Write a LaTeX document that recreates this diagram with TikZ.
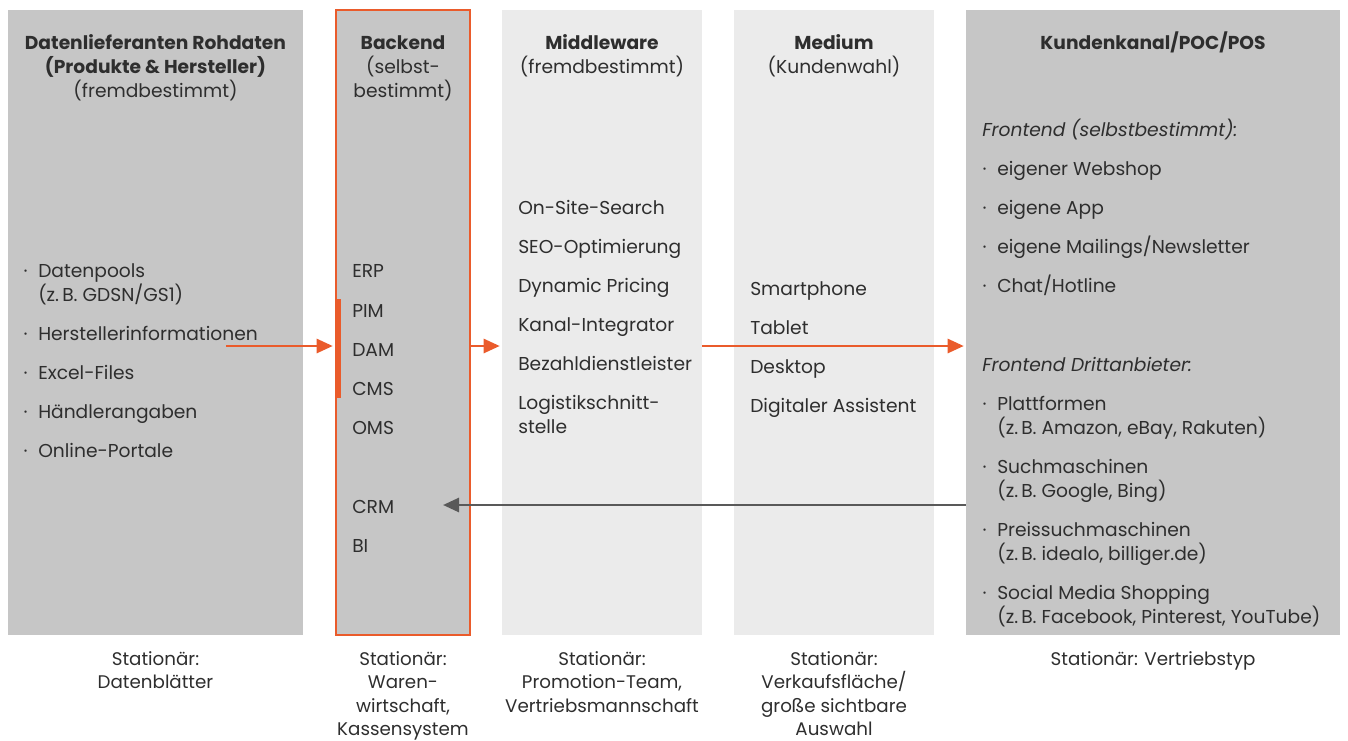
\documentclass[tikz,border=0pt]{standalone}
\usepackage{fontspec}
\setmainfont{Poppins}
\usetikzlibrary{positioning,arrows.meta,fit}

\definecolor{darkcol}{HTML}{C6C6C6}
\definecolor{lightcol}{HTML}{EBEBEB}
\definecolor{orangeline}{HTML}{EA5B2B}
\definecolor{greyline}{HTML}{595959}
\definecolor{textcol}{HTML}{2E2E2E}

\newcommand{\dotitem}{\llap{\makebox[11pt][l]{·}}}

\begin{document}
\begin{tikzpicture}[
  x=0.75pt, y=-0.75pt,
  colbox/.style={inner sep=0pt, draw=none},
  head/.style={anchor=base, align=center, inner sep=0pt, text=textcol, font=\fontsize{14}{18}\selectfont},
  entry/.style={anchor=base west, align=left, inner sep=0pt, text=textcol, font=\fontsize{14}{18}\selectfont},
  foot/.style={anchor=base, align=center, inner sep=0pt, text=textcol, font=\fontsize{13.7}{17.6}\selectfont},
  flow/.style={-{Triangle[length=12pt, width=10.5pt]}, line width=1.9pt, color=orangeline},
  back/.style={-{Triangle[length=12pt, width=10.5pt]}, line width=2pt, color=greyline}
]
  \useasboundingbox (0,0) rectangle (1348,740);

  % columns
  \node (col-data) [colbox, fill=darkcol, fit={(8,10) (303,635)}] {};
  \node (col-back) [colbox, fill=darkcol, draw=orangeline, line width=0.9pt, fit={(336,10) (470,635)}] {};
  \node (col-mid) [colbox, fill=lightcol, fit={(502,10) (702,635)}] {};
  \node (col-med) [colbox, fill=lightcol, fit={(734,10) (934,635)}] {};
  \node (col-cust) [colbox, fill=darkcol, fit={(966,10) (1340,635)}] {};

  % headings (placed at the baseline of their last line)
  \node (head-data) [head] at (col-data |- 0,97) {\textbf{Datenlieferanten Rohdaten}\\\textbf{(Produkte \& Hersteller)}\\(fremdbestimmt)};
  \node (head-back) [head] at (col-back |- 0,97) {\textbf{Backend}\\(selbst-\\bestimmt)};
  \node (head-mid) [head] at (col-mid |- 0,73) {\textbf{Middleware}\\(fremdbestimmt)};
  \node (head-med) [head] at (col-med |- 0,73) {\textbf{Medium}\\(Kundenwahl)};
  \node (head-cust) [head] at (col-cust |- 0,49) {\textbf{Kundenkanal/POC/POS}};

  % Datenlieferanten
  \node (src-pools) [entry] at (38,301) {\dotitem Datenpools\\(z.\,B. GDSN/GS1)};
  \node (src-manuf) [entry] at (38,340) {\dotitem Herstellerinformationen};
  \node (src-excel) [entry] at (38,379) {\dotitem Excel-Files};
  \node (src-dealer) [entry] at (38,418) {\dotitem Händlerangaben};
  \node (src-portal) [entry] at (38,457) {\dotitem Online-Portale};

  % Backend
  \node (back-erp) [entry] at (352,277) {ERP};
  \node (back-pim) [entry] at (352,317) {PIM};
  \node (back-dam) [entry] at (352,356) {DAM};
  \node (back-cms) [entry] at (352,395) {CMS};
  \node (back-oms) [entry] at (352,434) {OMS};
  \node (back-crm) [entry] at (352,513) {CRM};
  \node (back-bi) [entry] at (352,552) {BI};
  \fill[orangeline] (336,299) rectangle (341,398);

  % Middleware
  \node (mid-search) [entry] at (518,214) {On-Site-Search};
  \node (mid-seo) [entry] at (518,253) {SEO-Optimierung};
  \node (mid-pricing) [entry] at (518,292) {Dynamic Pricing};
  \node (mid-channel) [entry] at (518,331) {Kanal-Integrator};
  \node (mid-pay) [entry] at (518,370) {Bezahldienstleister};
  \node (mid-logistic) [entry] at (518,433) {Logistikschnitt-\\stelle};

  % Medium
  \node (med-phone) [entry] at (750,295) {Smartphone};
  \node (med-tablet) [entry] at (750,334) {Tablet};
  \node (med-desk) [entry] at (750,373) {Desktop};
  \node (med-assist) [entry] at (750,412) {Digitaler Assistent};

  % Kundenkanal
  \node (cust-own) [entry] at (982,136) {\textit{Frontend (selbstbestimmt):}};
  \node (cust-shop) [entry] at (997,175) {\dotitem eigener Webshop};
  \node (cust-app) [entry] at (997,214) {\dotitem eigene App};
  \node (cust-mail) [entry] at (997,253) {\dotitem eigene Mailings/Newsletter};
  \node (cust-chat) [entry] at (997,292) {\dotitem Chat/Hotline};
  \node (cust-third) [entry] at (982,371) {\textit{Frontend Drittanbieter:}};
  \node (cust-platform) [entry] at (997,434) {\dotitem Plattformen\\(z.\,B. Amazon, eBay, Rakuten)};
  \node (cust-search) [entry] at (997,497) {\dotitem Suchmaschinen\\(z.\,B. Google, Bing)};
  \node (cust-price) [entry] at (997,560) {\dotitem Preissuchmaschinen\\(z.\,B. idealo, billiger.de)};
  \node (cust-social) [entry] at (997,623) {\dotitem Social Media Shopping\\(z.\,B. Facebook, Pinterest, YouTube)};

  % stationaer
  \node (foot-data) [foot] at (col-data |- 0,688.5) {Stationär:\\Datenblätter};
  \node (foot-back) [foot] at (col-back |- 0,735.5) {Stationär:\\Waren-\\wirtschaft,\\Kassensystem};
  \node (foot-mid) [foot] at (col-mid |- 0,712) {Stationär:\\Promotion-Team,\\Vertriebsmannschaft};
  \node (foot-med) [foot] at (col-med |- 0,735.5) {Stationär:\\Verkaufsfläche/\\große sichtbare\\Auswahl};
  \node (foot-cust) [foot] at (col-cust |- 0,665) {Stationär: Vertriebstyp};

  % arrows
  \coordinate (fwd) at (226,346);
  \coordinate (ret) at (443,505);
  \draw[flow] (fwd) -- ([xshift=-2pt]col-back.west |- fwd);
  \draw[flow] (col-back.east |- fwd) -- ([xshift=-1.5pt]col-mid.west |- fwd);
  \draw[flow] (col-mid.east |- fwd) -- ([xshift=-1.5pt]col-cust.west |- fwd);
  \draw[back] (col-cust.west |- ret) -- (ret);
\end{tikzpicture}
\end{document}
